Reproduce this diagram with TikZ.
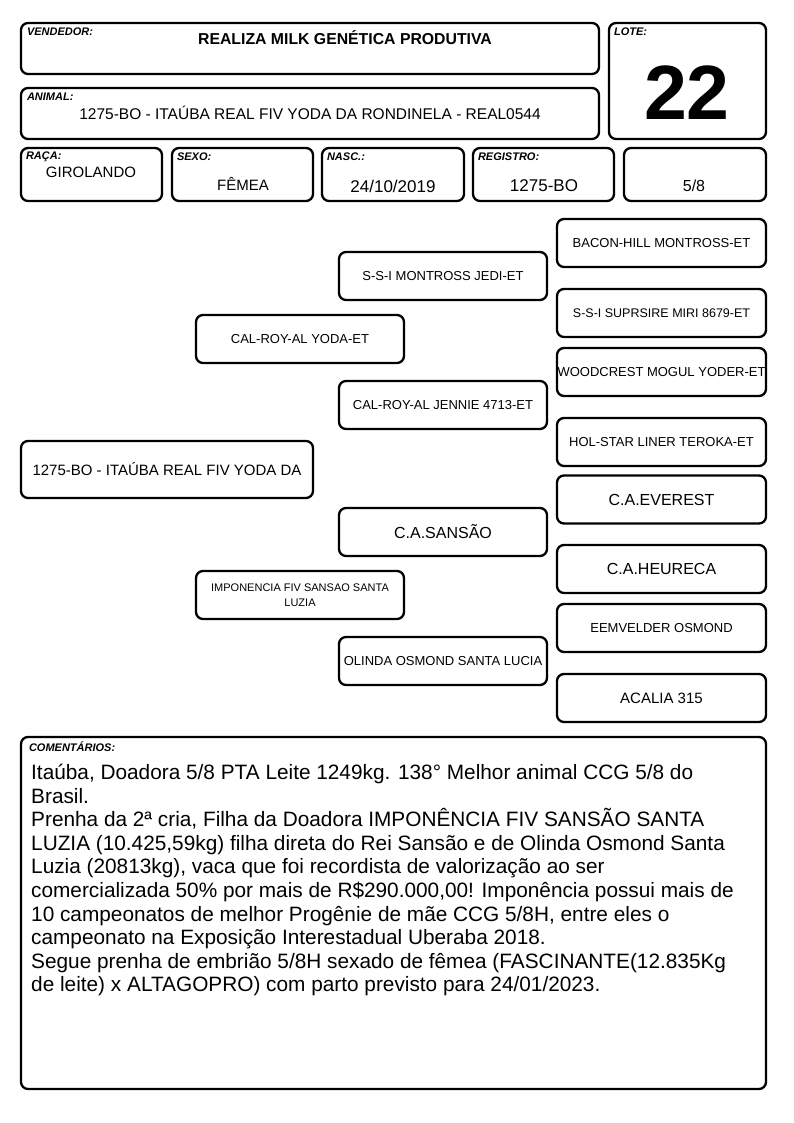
\documentclass[tikz,border=0pt]{standalone}
\usepackage{fontspec}
\setmainfont{Liberation Sans}
\usetikzlibrary{positioning}

\begin{document}
\begin{tikzpicture}[
    x=1pt, y=-1pt,
    card/.style={draw, line width=2.3pt, rounded corners=7pt, inner sep=0pt, align=center},
    tag/.style={anchor=north west, inner sep=0pt, font=\fontsize{11}{11}\bfseries\itshape\selectfont},
    val/.style={inner sep=0pt, font=\fontsize{#1}{#1}\selectfont},
    gen3/.style={card, minimum width=209pt, minimum height=48pt},
    gen2/.style={card, minimum width=208pt, minimum height=48pt},
    gen1/.style={card, minimum width=208pt, minimum height=48pt}
]
    \useasboundingbox (0,0) rectangle (794,1123);

    % header
    \node[card, minimum width=578pt, minimum height=51pt] (vend) at (310,48.5) {};
    \node[card, minimum width=578pt, minimum height=51pt] (animal) at (310,113.5) {};
    \node[card, minimum width=157pt, minimum height=116pt] (lote) at (687.5,81) {};
    \node[card, minimum width=141pt, minimum height=53pt] (raca) at (91.5,174.5) {};
    \node[card, minimum width=141pt, minimum height=53pt] (sexo) at (242.5,174.5) {};
    \node[card, minimum width=142pt, minimum height=53pt] (nasc) at (393,174.5) {};
    \node[card, minimum width=141pt, minimum height=53pt] (reg) at (543.5,174.5) {};
    \node[card, minimum width=142pt, minimum height=53pt] (grau) at (695,174.5) {};

    \node[tag] at ([shift={(7pt,-6pt)}]vend.north west) {VENDEDOR:};
    \node[tag] at ([shift={(7pt,-6pt)}]animal.north west) {ANIMAL:};
    \node[tag] at ([shift={(6pt,-6pt)}]lote.north west) {LOTE:};
    \node[tag] at ([shift={(6pt,-5pt)}]raca.north west) {RAÇA:};
    \node[tag] at ([shift={(6pt,-6pt)}]sexo.north west) {SEXO:};
    \node[tag] at ([shift={(6pt,-6pt)}]nasc.north west) {NASC.:};
    \node[tag] at ([shift={(6pt,-6pt)}]reg.north west) {REGISTRO:};

    \node[val=16, font=\fontsize{15.8}{16}\bfseries\selectfont] (vendname) at (345,38) {REALIZA MILK GENÉTICA PRODUTIVA};
    \node[val=15.5] (animalname) at (310,113) {1275-BO - ITAÚBA REAL FIV YODA DA RONDINELA - REAL0544};
    \node[val=77, font=\fontsize{77}{77}\bfseries\selectfont] (lotenum) at (687,93) {22};
    \node[val=15] (racaval) at (91,172) {GIROLANDO};
    \node[val=15] (sexoval) at (243,184) {FÊMEA};
    \node[val=17] (nascval) at (393,186) {24/10/2019};
    \node[val=17] (regval) at (544,186) {1275-BO};
    \node[val=16] (grauval) at (694,186) {5/8};

    % pedigree
    \node[card, minimum width=292pt, minimum height=57pt, font=\fontsize{15}{15}\selectfont] (self) at (167,469.5) {1275-BO - ITAÚBA REAL FIV YODA DA};

    \node[gen1, font=\fontsize{13}{13}\selectfont] (sire) at (300,339) {CAL-ROY-AL YODA-ET};
    \node[gen1, font=\fontsize{11}{15}\selectfont] (dam) at (300,595) {IMPONENCIA FIV SANSAO SANTA\\LUZIA};

    \node[gen2, font=\fontsize{13}{13}\selectfont] (ss) at (443,276) {S-S-I MONTROSS JEDI-ET};
    \node[gen2, font=\fontsize{13}{13}\selectfont] (sd) at (443,405) {CAL-ROY-AL JENNIE 4713-ET};
    \node[gen2, font=\fontsize{16}{16}\selectfont] (ds) at (443,532) {C.A.SANSÃO};
    \node[gen2, font=\fontsize{13}{13}\selectfont] (dd) at (443,661) {OLINDA OSMOND SANTA LUCIA};

    \node[gen3, font=\fontsize{13}{13}\selectfont] (sss) at (661.5,243) {BACON-HILL MONTROSS-ET};
    \node[gen3, font=\fontsize{12.5}{13}\selectfont] (ssd) at (661.5,313) {S-S-I SUPRSIRE MIRI 8679-ET};
    \node[gen3, font=\fontsize{13}{13}\selectfont] (sds) at (661.5,372) {WOODCREST MOGUL YODER-ET};
    \node[gen3, font=\fontsize{13}{13}\selectfont] (sdd) at (661.5,442) {HOL-STAR LINER TEROKA-ET};
    \node[gen3, font=\fontsize{16}{16}\selectfont] (dss) at (661.5,499.5) {C.A.EVEREST};
    \node[gen3, font=\fontsize{16}{16}\selectfont] (dsd) at (661.5,569) {C.A.HEURECA};
    \node[gen3, font=\fontsize{13}{13}\selectfont] (dds) at (661.5,628) {EEMVELDER OSMOND};
    \node[gen3, font=\fontsize{15}{15}\selectfont] (ddd) at (661.5,698) {ACALIA 315};

    % comments
    \node[card, minimum width=745pt, minimum height=352pt] (coment) at (393.5,913) {};
    \node[tag] at ([shift={(9pt,-6pt)}]coment.north west) {COMENTÁRIOS:};
    \node[anchor=north west, inner sep=0pt, align=left, font=\fontsize{20.8}{23.6}\selectfont] (comtext) at (31,764) {%
        Itaúba, Doadora 5/8 PTA Leite 1249kg. 138° Melhor animal CCG 5/8 do\\
        Brasil.\\
        Prenha da 2ª cria, Filha da Doadora IMPONÊNCIA FIV SANSÃO SANTA\\
        LUZIA (10.425,59kg) filha direta do Rei Sansão e de Olinda Osmond Santa\\
        Luzia (20813kg), vaca que foi recordista de valorização ao ser\\
        comercializada 50\% por mais de R\$290.000,00! Imponência possui mais de\\
        10 campeonatos de melhor Progênie de mãe CCG 5/8H, entre eles o\\
        campeonato na Exposição Interestadual Uberaba 2018.\\
        Segue prenha de embrião 5/8H sexado de fêmea (FASCINANTE(12.835Kg\\
        de leite) x ALTAGOPRO) com parto previsto para 24/01/2023.};
\end{tikzpicture}
\end{document}
